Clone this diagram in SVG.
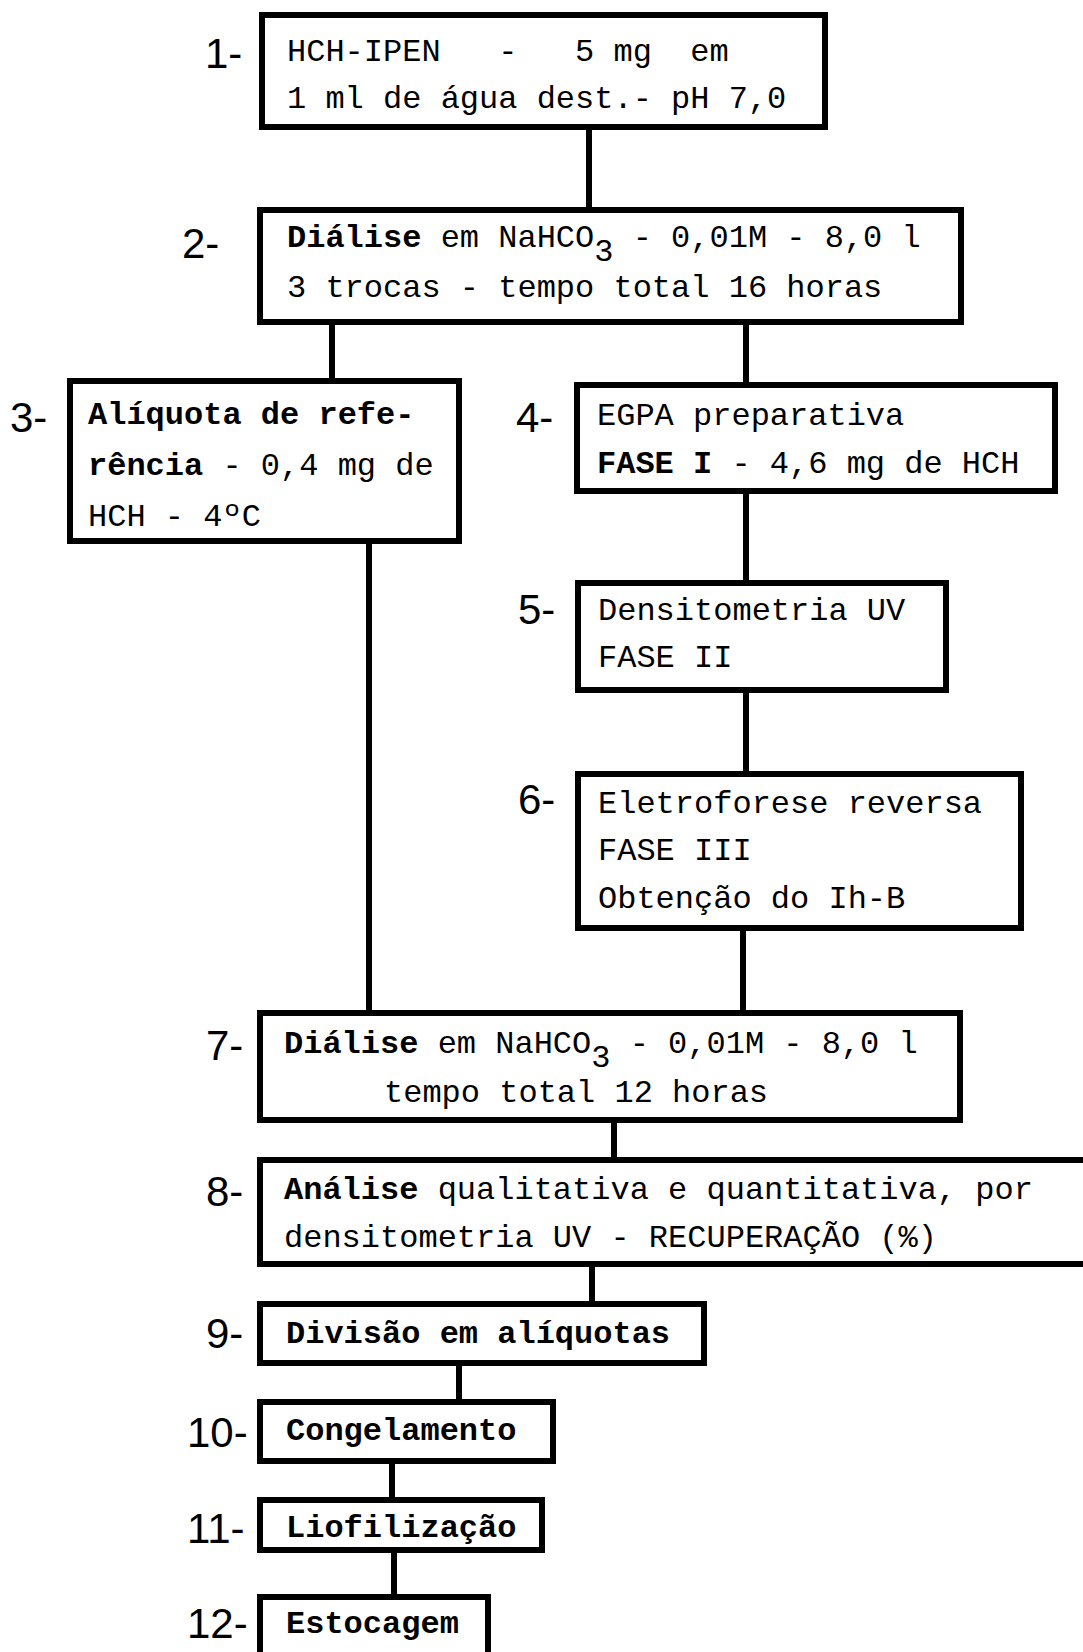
<svg xmlns="http://www.w3.org/2000/svg" width="1083" height="1652" viewBox="0 0 1083 1652">
<style>
.box{fill:#fff;stroke:#000;stroke-width:6}
.con{stroke:#000;stroke-width:6;fill:none}
.t{font-family:"Liberation Mono","DejaVu Sans Mono",monospace;font-size:32px;fill:#000}
.b{font-weight:bold}
.n{font-family:"Liberation Sans Narrow","Liberation Sans",sans-serif;font-size:42px;fill:#000}
</style>
<rect width="1083" height="1652" fill="#fff"/>
<g id="connectors">
<line class="con" x1="589" y1="127" x2="589" y2="210"/>
<line class="con" x1="332" y1="322" x2="332" y2="381"/>
<line class="con" x1="746" y1="322" x2="746" y2="385"/>
<line class="con" x1="746" y1="491" x2="746" y2="583"/>
<line class="con" x1="746" y1="690" x2="746" y2="774"/>
<line class="con" x1="369" y1="541" x2="369" y2="1013"/>
<line class="con" x1="743" y1="928" x2="743" y2="1013"/>
<line class="con" x1="614" y1="1120" x2="614" y2="1160"/>
<line class="con" x1="592" y1="1264" x2="592" y2="1304"/>
<line class="con" x1="459" y1="1363" x2="459" y2="1402"/>
<line class="con" x1="392" y1="1461" x2="392" y2="1500"/>
<line class="con" x1="394" y1="1550" x2="394" y2="1597"/>
</g>
<g id="n1">
<rect class="box" x="262" y="15" width="563" height="112"/>
<text class="n" x="205" y="68">1-</text>
<text class="t" x="287" y="61" xml:space="preserve">HCH-IPEN   -   5 mg  em</text>
<text class="t" x="287" y="108">1 ml de água dest.- pH 7,0</text>
</g>
<g id="n2">
<rect class="box" x="260" y="210" width="701" height="112"/>
<text class="n" x="182" y="258">2-</text>
<text class="t" x="287" y="247"><tspan class="b">Diálise</tspan> em NaHCO<tspan dy="14">3</tspan><tspan dy="-14"> - 0,01M - 8,0 l</tspan></text>
<text class="t" x="287" y="297">3 trocas - tempo total 16 horas</text>
</g>
<g id="n3">
<rect class="box" x="70" y="381" width="389" height="160"/>
<text class="n" x="10" y="432">3-</text>
<text class="t b" x="88" y="424">Alíquota de refe-</text>
<text class="t" x="88" y="475"><tspan class="b">rência</tspan> - 0,4 mg de</text>
<text class="t" x="88" y="526">HCH - 4ºC</text>
</g>
<g id="n4">
<rect class="box" x="577" y="385" width="478" height="106"/>
<text class="n" x="516" y="432">4-</text>
<text class="t" x="597" y="425">EGPA preparativa</text>
<text class="t" x="597" y="473"><tspan class="b">FASE I</tspan> - 4,6 mg de HCH</text>
</g>
<g id="n5">
<rect class="box" x="578" y="583" width="368" height="107"/>
<text class="n" x="518" y="624">5-</text>
<text class="t" x="598" y="620">Densitometria UV</text>
<text class="t" x="598" y="667">FASE II</text>
</g>
<g id="n6">
<rect class="box" x="578" y="774" width="443" height="154"/>
<text class="n" x="518" y="814">6-</text>
<text class="t" x="598" y="813">Eletroforese reversa</text>
<text class="t" x="598" y="860">FASE III</text>
<text class="t" x="598" y="908">Obtenção do Ih-B</text>
</g>
<g id="n7">
<rect class="box" x="260" y="1013" width="700" height="107"/>
<text class="n" x="206" y="1060">7-</text>
<text class="t" x="284" y="1053"><tspan class="b">Diálise</tspan> em NaHCO<tspan dy="14">3</tspan><tspan dy="-14"> - 0,01M - 8,0 l</tspan></text>
<text class="t" x="384" y="1102">tempo total 12 horas</text>
</g>
<g id="n8">
<rect class="box" x="260" y="1160" width="835" height="104"/>
<text class="n" x="206" y="1206">8-</text>
<text class="t" x="284" y="1199"><tspan class="b">Análise</tspan> qualitativa e quantitativa, por</text>
<text class="t" x="284" y="1247">densitometria UV - RECUPERAÇÃO (%)</text>
</g>
<g id="n9">
<rect class="box" x="260" y="1304" width="444" height="59"/>
<text class="n" x="206" y="1348">9-</text>
<text class="t b" x="286" y="1343">Divisão em alíquotas</text>
</g>
<g id="n10">
<rect class="box" x="260" y="1402" width="293" height="59"/>
<text class="n" x="187" y="1447">10-</text>
<text class="t b" x="286" y="1440">Congelamento</text>
</g>
<g id="n11">
<rect class="box" x="260" y="1500" width="282" height="50"/>
<text class="n" x="187" y="1543">11-</text>
<text class="t b" x="286" y="1537">Liofilização</text>
</g>
<g id="n12">
<rect class="box" x="260" y="1597" width="228" height="70"/>
<text class="n" x="187" y="1638">12-</text>
<text class="t b" x="286" y="1633">Estocagem</text>
</g>
</svg>
